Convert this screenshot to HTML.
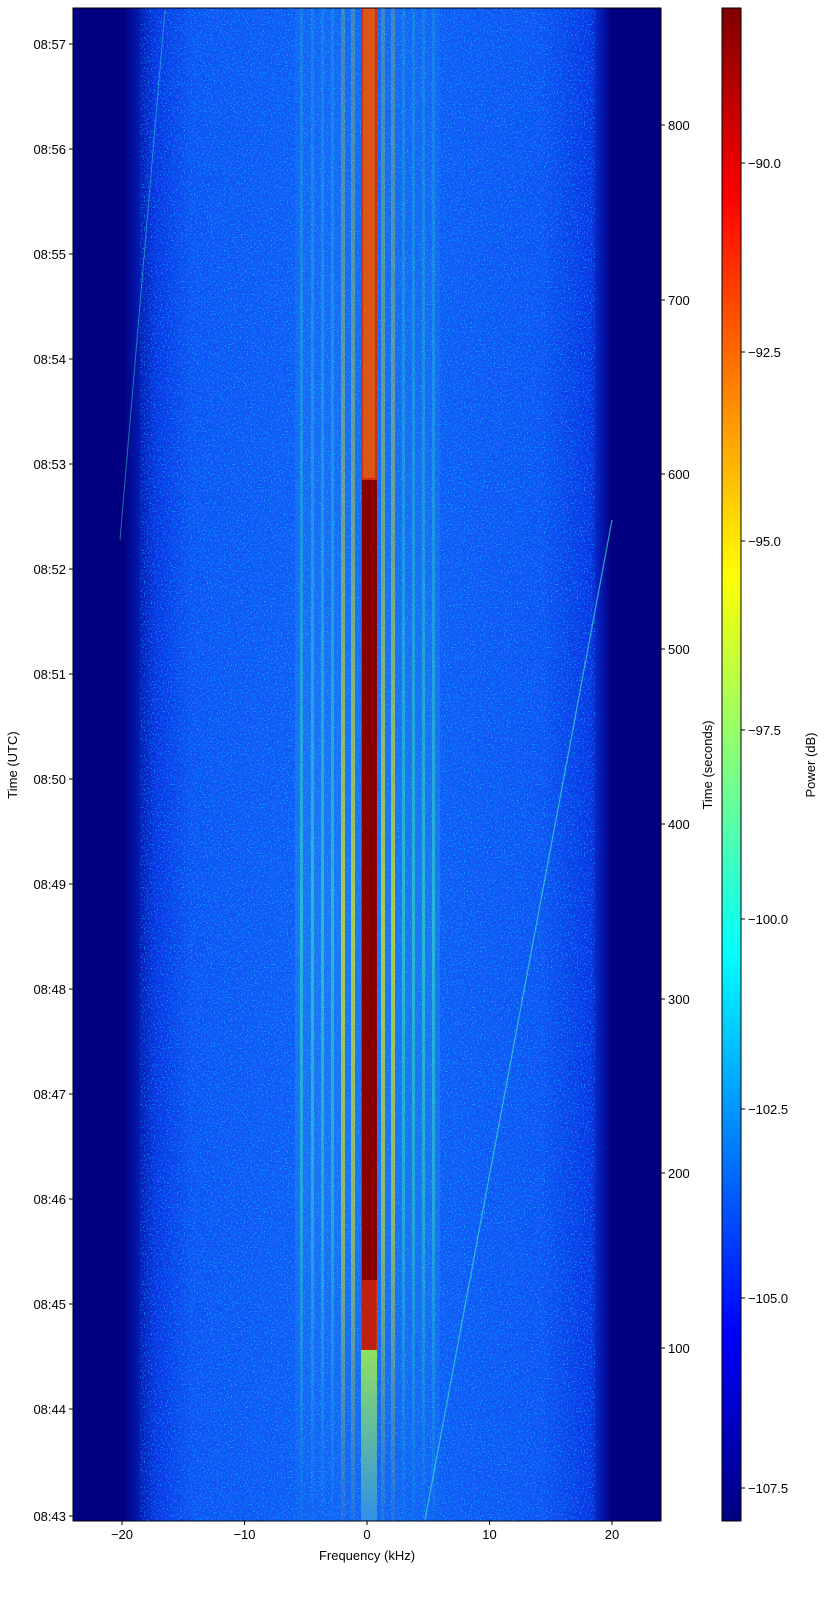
<!DOCTYPE html>
<html><head><meta charset="utf-8"><style>
html,body{margin:0;padding:0;background:#fff;}
svg text{font-family:"Liberation Sans",sans-serif;font-size:13px;fill:#000;}
</style></head><body>
<svg width="832" height="1603" xmlns="http://www.w3.org/2000/svg">
<defs>
<linearGradient id="env" x1="0" x2="1" y1="0" y2="0">
<stop offset="0" stop-color="#000080"/>
<stop offset="0.085" stop-color="#000080"/>
<stop offset="0.14" stop-color="#0a34e4"/>
<stop offset="0.2" stop-color="#1052f4"/>
<stop offset="0.5" stop-color="#1460f8"/>
<stop offset="0.8" stop-color="#1052f4"/>
<stop offset="0.88" stop-color="#0a34e4"/>
<stop offset="0.915" stop-color="#000080"/>
<stop offset="1" stop-color="#000080"/>
</linearGradient>
<linearGradient id="jet" x1="0" x2="0" y1="1" y2="0">
<stop offset="0" stop-color="#000080"/>
<stop offset="0.125" stop-color="#0000ff"/>
<stop offset="0.375" stop-color="#00ffff"/>
<stop offset="0.625" stop-color="#ffff00"/>
<stop offset="0.875" stop-color="#ff0000"/>
<stop offset="1" stop-color="#800000"/>
</linearGradient>
<linearGradient id="vfade" x1="0" x2="0" y1="0" y2="1">
<stop offset="0" stop-color="#fff" stop-opacity="0.3"/>
<stop offset="0.35" stop-color="#fff" stop-opacity="0.6"/>
<stop offset="0.6" stop-color="#fff" stop-opacity="1"/>
<stop offset="0.8" stop-color="#fff" stop-opacity="0.8"/>
<stop offset="1" stop-color="#fff" stop-opacity="0.1"/>
</linearGradient>
<linearGradient id="botc" x1="0" x2="0" y1="0" y2="1">
<stop offset="0" stop-color="#90e060"/>
<stop offset="1" stop-color="#3090e8"/>
</linearGradient>
<mask id="m"><rect x="73" y="8" width="588" height="1513" fill="url(#vfade)"/></mask>
<filter id="noise" x="0" y="0" width="1" height="1">
<feTurbulence type="fractalNoise" baseFrequency="0.7" numOctaves="1" seed="3"/>
<feColorMatrix values="0 0 0 0 0  0 0 0 0 0.9  0 0 0 0 1  0 0 0 4 -2.2"/>
</filter>
</defs>
<rect x="73" y="8" width="588" height="1513" fill="url(#env)"/>
<rect x="140" y="8" width="455" height="1513" filter="url(#noise)" opacity="0.7"/>
<g mask="url(#m)">
<rect x="295" y="8" width="145" height="1513" fill="#30a0f0" opacity="0.35"/>
<g fill="#30e0c0" opacity="0.6">
<rect x="300" y="8" width="3" height="1513"/><rect x="311" y="8" width="3" height="1513"/>
<rect x="321" y="8" width="3" height="1513"/><rect x="331" y="8" width="3" height="1513"/>
<rect x="402" y="8" width="3" height="1513"/><rect x="412" y="8" width="3" height="1513"/>
<rect x="422" y="8" width="3" height="1513"/><rect x="432" y="8" width="3" height="1513"/>
</g>
<g fill="#d0e020" opacity="0.8">
<rect x="341" y="8" width="4" height="1513"/><rect x="351" y="8" width="4" height="1513"/>
<rect x="381" y="8" width="4" height="1513"/><rect x="391" y="8" width="4" height="1513"/>
</g>
</g>
<rect x="361" y="8" width="16" height="1513" fill="#d03010"/>
<rect x="362" y="480" width="15" height="800" fill="#8a0000"/>
<rect x="363" y="8" width="12" height="470" fill="#f0a020" opacity="0.35"/>
<rect x="362" y="1280" width="14" height="70" fill="#c02010"/>
<rect x="361" y="1350" width="16" height="171" fill="url(#botc)"/>
<line x1="612" y1="520" x2="425" y2="1520" stroke="#40e0d0" stroke-width="1.2" opacity="0.7"/>
<line x1="165" y1="10" x2="120" y2="540" stroke="#40e0d0" stroke-width="1" opacity="0.5"/>
<rect x="73" y="8" width="588" height="1513" fill="none" stroke="#000" stroke-width="1"/>
<g stroke="#000"><line x1="122" y1="1521" x2="122" y2="1525"/><line x1="244.5" y1="1521" x2="244.5" y2="1525"/><line x1="367" y1="1521" x2="367" y2="1525"/><line x1="489.5" y1="1521" x2="489.5" y2="1525"/><line x1="612" y1="1521" x2="612" y2="1525"/></g>
<g text-anchor="middle"><text x="122" y="1539">−20</text><text x="244.5" y="1539">−10</text><text x="367" y="1539">0</text><text x="489.5" y="1539">10</text><text x="612" y="1539">20</text>
<text x="367" y="1560">Frequency (kHz)</text></g>
<g stroke="#000">
<line x1="69" y1="44" x2="73" y2="44"/><line x1="69" y1="149" x2="73" y2="149"/><line x1="69" y1="254" x2="73" y2="254"/><line x1="69" y1="359" x2="73" y2="359"/><line x1="69" y1="464" x2="73" y2="464"/><line x1="69" y1="569" x2="73" y2="569"/><line x1="69" y1="674" x2="73" y2="674"/><line x1="69" y1="779" x2="73" y2="779"/><line x1="69" y1="884" x2="73" y2="884"/><line x1="69" y1="989" x2="73" y2="989"/><line x1="69" y1="1094" x2="73" y2="1094"/><line x1="69" y1="1199" x2="73" y2="1199"/><line x1="69" y1="1304" x2="73" y2="1304"/><line x1="69" y1="1409" x2="73" y2="1409"/><line x1="69" y1="1516" x2="73" y2="1516"/>
</g>
<g text-anchor="end">
<text x="66" y="49">08:57</text><text x="66" y="154">08:56</text><text x="66" y="259">08:55</text><text x="66" y="364">08:54</text><text x="66" y="469">08:53</text><text x="66" y="574">08:52</text><text x="66" y="679">08:51</text><text x="66" y="784">08:50</text><text x="66" y="889">08:49</text><text x="66" y="994">08:48</text><text x="66" y="1099">08:47</text><text x="66" y="1204">08:46</text><text x="66" y="1309">08:45</text><text x="66" y="1414">08:44</text><text x="66" y="1521">08:43</text>
</g>
<text transform="translate(17,765) rotate(-90)" text-anchor="middle">Time (UTC)</text>
<g stroke="#000">
<line x1="661" y1="125" x2="665" y2="125"/><line x1="661" y1="300" x2="665" y2="300"/><line x1="661" y1="474" x2="665" y2="474"/><line x1="661" y1="649" x2="665" y2="649"/><line x1="661" y1="824" x2="665" y2="824"/><line x1="661" y1="999" x2="665" y2="999"/><line x1="661" y1="1173" x2="665" y2="1173"/><line x1="661" y1="1348" x2="665" y2="1348"/>
</g>
<g>
<text x="668" y="130">800</text><text x="668" y="305">700</text><text x="668" y="479">600</text><text x="668" y="654">500</text><text x="668" y="829">400</text><text x="668" y="1004">300</text><text x="668" y="1178">200</text><text x="668" y="1353">100</text>
</g>
<text transform="translate(712,765) rotate(-90)" text-anchor="middle">Time (seconds)</text>
<rect x="722" y="8" width="19" height="1513" fill="url(#jet)" stroke="#000" stroke-width="1"/>
<g stroke="#000">
<line x1="741" y1="163" x2="745" y2="163"/><line x1="741" y1="352" x2="745" y2="352"/><line x1="741" y1="541" x2="745" y2="541"/><line x1="741" y1="730" x2="745" y2="730"/><line x1="741" y1="919" x2="745" y2="919"/><line x1="741" y1="1109" x2="745" y2="1109"/><line x1="741" y1="1298" x2="745" y2="1298"/><line x1="741" y1="1488" x2="745" y2="1488"/>
</g>
<g>
<text x="748" y="168">−90.0</text><text x="748" y="357">−92.5</text><text x="748" y="546">−95.0</text><text x="748" y="735">−97.5</text><text x="748" y="924">−100.0</text><text x="748" y="1114">−102.5</text><text x="748" y="1303">−105.0</text><text x="748" y="1493">−107.5</text>
</g>
<text transform="translate(815,765) rotate(-90)" text-anchor="middle">Power (dB)</text>
</svg>
</body></html>
